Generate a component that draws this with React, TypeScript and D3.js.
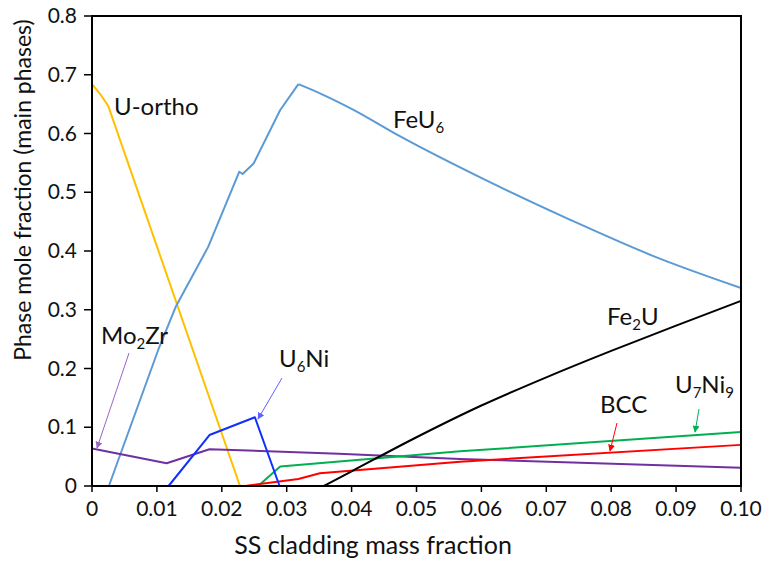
import React from "react";
import * as d3 from "d3";

const xTicks = [0, 0.01, 0.02, 0.03, 0.04, 0.05, 0.06, 0.07, 0.08, 0.09, 0.1];
const xTickLabels = ["0", "0.01", "0.02", "0.03", "0.04", "0.05", "0.06", "0.07", "0.08", "0.09", "0.10"];
const yTicks = [0, 0.1, 0.2, 0.3, 0.4, 0.5, 0.6, 0.7, 0.8];
const yTickLabels = ["0", "0.1", "0.2", "0.3", "0.4", "0.5", "0.6", "0.7", "0.8"];

const uOrtho: [number, number][] = [[0, 0.684], [0.0012, 0.668], [0.0025, 0.647], [0.0228, 0]];
const feU6Rise: [number, number][] = [
  [0.0026, 0], [0.0102, 0.2315], [0.0129, 0.305], [0.0179, 0.407], [0.0227, 0.535],
  [0.0232, 0.531], [0.0249, 0.549], [0.029, 0.64], [0.0318, 0.684],
];
const feU6Fall: [number, number][] = [
  [0.0318, 0.684], [0.0352, 0.668], [0.04, 0.642], [0.0475, 0.595], [0.0606, 0.521],
  [0.0737, 0.453], [0.0868, 0.39], [0.1, 0.337],
];
const u6Ni: [number, number][] = [[0.0118, 0], [0.0181, 0.0868], [0.0251, 0.117], [0.0289, 0]];
const mo2Zr: [number, number][] = [[0, 0.064], [0.0115, 0.0386], [0.0181, 0.0625], [0.038, 0.055], [0.0567, 0.046], [0.1, 0.031]];
const u7Ni9: [number, number][] = [[0.0256, 0], [0.029, 0.033], [0.0567, 0.059], [0.1, 0.092]];
const bcc: [number, number][] = [[0.0236, 0], [0.0318, 0.012], [0.0351, 0.0216], [0.0567, 0.0414], [0.1, 0.07]];
const fe2U: [number, number][] = [[0.0357, 0], [0.04, 0.025], [0.05, 0.083], [0.06, 0.137], [0.07, 0.185], [0.08, 0.23], [0.09, 0.273], [0.1, 0.315]];

const FONT = "Lato, 'Open Sans', sans-serif";

export default function App() {
  const x = d3.scaleLinear().domain([0, 0.1]).range([92, 741]);
  const y = d3.scaleLinear().domain([0, 0.8]).range([486, 16]);
  const line = d3.line<[number, number]>().x((d) => x(d[0])).y((d) => y(d[1]));
  const smooth = d3.line<[number, number]>().x((d) => x(d[0])).y((d) => y(d[1])).curve(d3.curveMonotoneX);

  const series = [
    { d: line(uOrtho), color: "#FFC000" },
    { d: line(feU6Rise), color: "#5B9BD5" },
    { d: smooth(feU6Fall), color: "#5B9BD5" },
    { d: line(mo2Zr), color: "#7030A0" },
    { d: line(u7Ni9), color: "#00B050" },
    { d: line(bcc), color: "#FF0000" },
    { d: smooth(fe2U), color: "#000000" },
    { d: line(u6Ni), color: "#1030FF" },
  ];

  const arrows = [
    { x1: 129, y1: 353, x2: 97, y2: 448, color: "#9966CC", id: "a1" },
    { x1: 282, y1: 378, x2: 258, y2: 419, color: "#6060FF", id: "a2" },
    { x1: 617, y1: 423, x2: 610, y2: 451, color: "#FF0000", id: "a3" },
    { x1: 699, y1: 409, x2: 695, y2: 432, color: "#00B050", id: "a4" },
  ];

  const labelSize = 24;
  const sub = 15;

  return (
    <svg width={764} height={561} style={{ position: "absolute", left: 0, top: 0, background: "#fff" }} fontFamily={FONT}>
      <defs>
        {arrows.map((a) => (
          <marker key={a.id} id={a.id} viewBox="0 0 10 10" refX="9" refY="5" markerWidth="7" markerHeight="7" orient="auto" markerUnits="userSpaceOnUse">
            <path d="M0,0 L10,5 L0,10 z" fill={a.color} />
          </marker>
        ))}
      </defs>
      <rect x={0} y={0} width={764} height={561} fill="#fff" />

      {series.map((s, i) => (
        <path key={i} d={s.d || ""} fill="none" stroke={s.color} strokeWidth={2} strokeLinejoin="round" />
      ))}

      {/* frame */}
      <rect x={x(0)} y={y(0.8)} width={x(0.1) - x(0)} height={y(0) - y(0.8)} fill="none" stroke="#000" strokeWidth={2} />

      {yTicks.map((t, i) => (
        <g key={"y" + i}>
          <line x1={x(0) - 8} x2={x(0)} y1={y(t)} y2={y(t)} stroke="#000" strokeWidth={1.5} />
          <text x={77} y={y(t) + 7} textAnchor="end" fontSize={21} fill="#111">{yTickLabels[i]}</text>
        </g>
      ))}
      {xTicks.map((t, i) => (
        <g key={"x" + i}>
          <line x1={x(t)} x2={x(t)} y1={y(0)} y2={y(0) + 6} stroke="#000" strokeWidth={1.5} />
          <text x={x(t)} y={516} textAnchor="middle" fontSize={21} fill="#111">{xTickLabels[i]}</text>
        </g>
      ))}

      <text x={373} y={554} textAnchor="middle" fontSize={25} fill="#111">SS cladding mass fraction</text>
      <text transform="translate(31,190) rotate(-90)" textAnchor="middle" fontSize={23} fill="#111">Phase mole fraction (main phases)</text>

      {arrows.map((a) => (
        <line key={a.id} x1={a.x1} y1={a.y1} x2={a.x2} y2={a.y2} stroke={a.color} strokeWidth={1} markerEnd={`url(#${a.id})`} />
      ))}

      <g fontSize={labelSize} fill="#111">
        <text x={114} y={115}>U-ortho</text>
        <text x={393} y={128}>FeU<tspan fontSize={sub} dy={5}>6</tspan></text>
        <text x={607} y={325}>Fe<tspan fontSize={sub} dy={5}>2</tspan><tspan dy={-5}>U</tspan></text>
        <text x={675} y={393}>U<tspan fontSize={sub} dy={5}>7</tspan><tspan dy={-5}>Ni</tspan><tspan fontSize={sub} dy={5}>9</tspan></text>
        <text x={600} y={413}>BCC</text>
        <text x={279} y={367}>U<tspan fontSize={sub} dy={5}>6</tspan><tspan dy={-5}>Ni</tspan></text>
        <text x={101} y={344}>Mo<tspan fontSize={sub} dy={5}>2</tspan><tspan dy={-5}>Zr</tspan></text>
      </g>
    </svg>
  );
}
